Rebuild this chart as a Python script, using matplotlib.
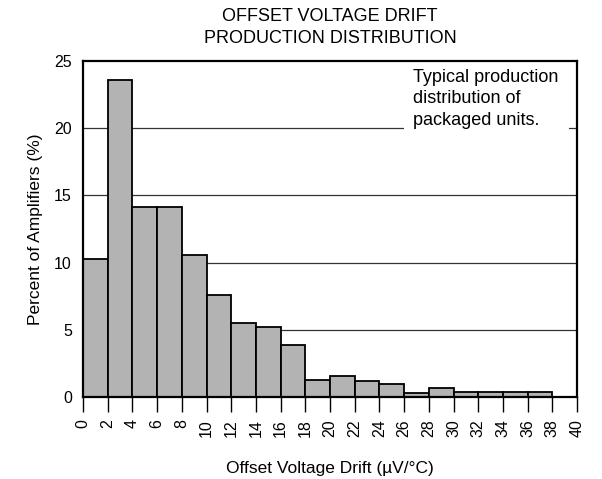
import matplotlib
matplotlib.use("Agg")
import matplotlib.pyplot as plt
import numpy as np

plt.rcParams['font.family'] = ['Liberation Sans', 'DejaVu Sans']

# bin edges (uV/C) and percent of amplifiers per bin
bin_left = np.arange(0, 40, 2)
percent = [10.25, 23.6, 14.1, 14.1, 10.6, 7.57, 5.48, 5.23, 3.87, 1.3,
           1.55, 1.21, 0.97, 0.32, 0.67, 0.37, 0.37, 0.37, 0.37, 0.0]
x_ticks = list(range(0, 41, 2))
y_ticks = [0, 5, 10, 15, 20, 25]

fig = plt.figure(figsize=(6.02, 4.79), dpi=100)
ax = fig.add_axes([0.1379, 0.1712, 0.8206, 0.7015])

for y in [5, 10, 15, 20]:
    ax.axhline(y, color='#333333', lw=0.9, zorder=1)

ax.bar(bin_left, percent, width=2, align='edge', color='#b3b3b3',
       edgecolor='black', linewidth=1.3, zorder=3)

ax.set_xlim(0, 40)
ax.set_ylim(0, 25)
ax.set_xticks(x_ticks)
ax.set_xticklabels([str(t) for t in x_ticks], rotation=90, fontsize=11.5)
ax.set_yticks(y_ticks)
ax.set_yticklabels([str(t) for t in y_ticks], fontsize=11.5)
ax.tick_params(axis='x', direction='out', length=11, width=1.0, pad=5)
ax.tick_params(axis='y', length=0, pad=8)
for s in ax.spines.values():
    s.set_linewidth(1.6)
    s.set_zorder(4)

ax.set_xlabel('Offset Voltage Drift (µV/°C)', fontsize=12.5, labelpad=17)
ax.set_ylabel('Percent of Amplifiers (%)', fontsize=12.5, labelpad=8)
ax.set_title('OFFSET VOLTAGE DRIFT\nPRODUCTION DISTRIBUTION', fontsize=13,
             pad=13, linespacing=1.4)

# note box sits above the grid but under the frame
ax.text(26.75, 24.4, 'Typical production\ndistribution of\npackaged units.',
        fontsize=13, va='top', ha='left', linespacing=1.33, zorder=2,
        bbox=dict(facecolor='white', edgecolor='none', pad=7))

fig.savefig('out.png', dpi=100)
